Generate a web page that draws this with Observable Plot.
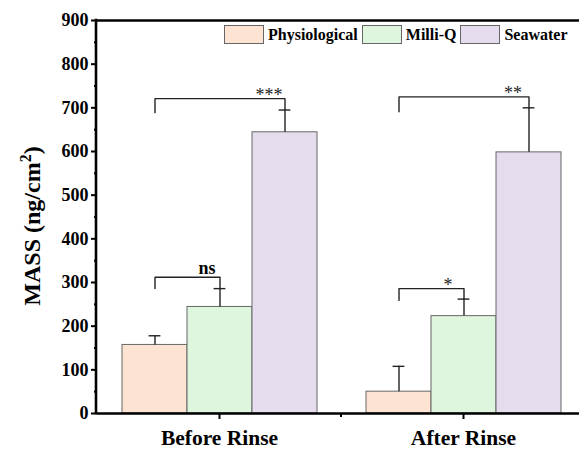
<!DOCTYPE html>
<html><head><meta charset="utf-8">
<script src="https://cdn.jsdelivr.net/npm/d3@7"></script>
<script src="https://cdn.jsdelivr.net/npm/@observablehq/plot@0.6"></script>
<style>
body{margin:0;background:#fff;}
#wrap{position:relative;width:579px;height:451px;overflow:hidden;font-family:"Liberation Serif",Tinos,"Times New Roman",Times,"DejaVu Serif",serif;}
#ylab{position:absolute;left:31px;top:226px;transform:translate(-50%,-50%) rotate(-90deg);white-space:nowrap;font-weight:bold;font-size:24px;line-height:1;}
#ylab sup{font-size:16px;}
#legend{position:absolute;left:224px;top:25px;display:flex;align-items:center;font-weight:bold;font-size:16px;white-space:nowrap;}
#legend .sw{width:38px;height:17px;border:1px solid #666;margin-right:4px;}
#legend .lb{margin-right:4px;}
svg text{font-family:"Liberation Serif",Tinos,"Times New Roman",Times,"DejaVu Serif",serif;}
</style></head><body>
<div id="wrap"><div id="ylab">MASS (ng/cm<sup>2</sup>)</div><div id="legend"></div></div>
<script>
const groups = ["Before Rinse", "After Rinse"];
const series = ["Physiological", "Milli-Q", "Seawater"];
const colors = ["#fde4d2", "#def5de", "#e5dcee"];
const beforeMeans = [157, 244, 644];
const beforeErrTops = [178, 286, 695];
const afterMeans = [50, 223, 598];
const afterErrTops = [108, 262, 700];
const yTicks = [0, 100, 200, 300, 400, 500, 600, 700, 800, 900];
const yMinorTicks = [50, 150, 250, 350, 450, 550, 650, 750, 850];
const bracketGroups = ["Before Rinse", "Before Rinse", "After Rinse", "After Rinse"];
const bracketFrom = ["Physiological", "Physiological", "Physiological", "Physiological"];
const bracketTo = ["Milli-Q", "Seawater", "Milli-Q", "Seawater"];
const bracketTop = [312, 721, 286, 725];
const bracketLeftEnd = [286, 689, 259, 691];
const bracketRightEnd = [286, 695, 262, 700];
const bracketLabels = ["ns", "***", "*", "**"];

const rows = [];
groups.forEach((g, gi) => series.forEach((s, si) => rows.push({
  group: g, series: s,
  mean: gi === 0 ? beforeMeans[si] : afterMeans[si],
  err: gi === 0 ? beforeErrTops[si] : afterErrTops[si]
})));
const brackets = bracketGroups.map((g, i) => ({group: g, from: bracketFrom[i], to: bracketTo[i], top: bracketTop[i], label: bracketLabels[i]}));
const bracketPts = [];
bracketGroups.forEach((g, i) => {
  bracketPts.push({id: i, group: g, x: bracketFrom[i], y: bracketLeftEnd[i]});
  bracketPts.push({id: i, group: g, x: bracketFrom[i], y: bracketTop[i]});
  bracketPts.push({id: i, group: g, x: bracketTo[i], y: bracketTop[i]});
  bracketPts.push({id: i, group: g, x: bracketTo[i], y: bracketRightEnd[i]});
});
const serifFont = "'Liberation Serif',Tinos,'Times New Roman',Times,'DejaVu Serif',serif";

const plot = Plot.plot({
  width: 579, height: 451,
  marginTop: 20, marginBottom: 38, marginLeft: 96, marginRight: -6,
  style: {fontFamily: serifFont, background: "transparent", color: "#000"},
  fx: {domain: groups, padding: 0},
  x: {domain: series, paddingInner: 0, paddingOuter: 0.375, axis: null},
  y: {domain: [0, 900]},
  color: {domain: series, range: colors},
  marks: [
    Plot.barY(rows, {fx: "group", x: "series", y: "mean", fill: "series", stroke: "#666", strokeWidth: 1, inset: 0}),
    Plot.ruleX(rows, {fx: "group", x: "series", y1: "mean", y2: "err", stroke: "#222", strokeWidth: 1.4}),
    Plot.tickY(rows, {fx: "group", x: "series", y: "err", stroke: "#222", strokeWidth: 1.4, insetLeft: 26.6, insetRight: 26.6}),
    Plot.line(bracketPts, {fx: "group", x: "x", y: "y", z: "id", stroke: "#222", strokeWidth: 1.4, curve: "linear"}),
    Plot.text(brackets.filter(d => d.label === "ns"), {fx: "group", x: "to", y: "top", text: "label", dx: -13, dy: -3, lineAnchor: "bottom", fontSize: 18, fontWeight: "bold", fontFamily: serifFont}),
    Plot.text(brackets.filter(d => d.label !== "ns"), {fx: "group", x: "to", y: "top", text: "label", dx: -16, dy: 2, lineAnchor: "bottom", fontSize: 18, fontFamily: serifFont, fill: "#222"}),
    Plot.ruleY([0, 900], {stroke: "#000", strokeWidth: 2.6}),
    Plot.axisY({ticks: yTicks, tickSize: 6, tickPadding: 3, strokeWidth: 2, fontSize: 18, fontWeight: "bold", fontFamily: serifFont, label: null}),
    Plot.axisY({ticks: yMinorTicks, tickSize: 3, strokeWidth: 2, tickFormat: () => "", label: null}),
    Plot.axisFx({anchor: "bottom", tickSize: 6, strokeWidth: 2, tickPadding: 10, fontSize: 21.5, fontWeight: "bold", fontFamily: serifFont, label: null})
  ]
});
const wrap = document.getElementById("wrap");
wrap.insertBefore(plot, wrap.firstChild);
plot.style.position = "absolute"; plot.style.left = "0"; plot.style.top = "0";

// axis line on the left and minor tick between the groups, placed through the plot's scales
const fxS = plot.scale("fx"), yS = plot.scale("y");
const svg = d3.select(plot);
const x0 = fxS.range[0];
svg.append("line").attr("x1", x0).attr("x2", x0).attr("y1", yS.apply(900) - 1.3).attr("y2", yS.apply(0) + 1.3)
  .attr("stroke", "#000").attr("stroke-width", 2.6);
const xb = fxS.apply(groups[1]);
svg.append("line").attr("x1", xb).attr("x2", xb).attr("y1", yS.apply(0)).attr("y2", yS.apply(0) + 4)
  .attr("stroke", "#000").attr("stroke-width", 2);

const leg = document.getElementById("legend");
series.forEach((s, i) => {
  const sw = document.createElement("div"); sw.className = "sw"; sw.style.background = colors[i];
  const lb = document.createElement("div"); lb.className = "lb"; lb.textContent = s;
  leg.appendChild(sw); leg.appendChild(lb);
});
</script></body></html>
